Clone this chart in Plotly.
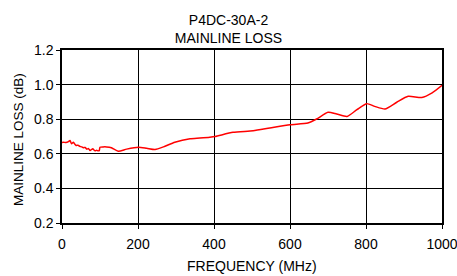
import plotly.graph_objects as go

freq = [0, 4, 10, 17, 21, 25, 30, 34, 37, 42, 47, 52, 56, 61, 65, 70, 74, 78, 81, 84, 87, 91, 95, 98,
        100, 108, 117, 130, 148, 170, 201, 223, 245, 267, 297, 337, 363, 389, 403, 450, 503, 547,
        600, 647, 670, 700, 723, 750, 776, 802, 823, 850, 881, 911, 947, 974, 1000]
loss = [0.665, 0.667, 0.665, 0.670, 0.677, 0.658, 0.667, 0.655, 0.648, 0.650, 0.643, 0.640, 0.635, 0.637,
        0.627, 0.630, 0.619, 0.625, 0.629, 0.622, 0.617, 0.620, 0.617, 0.618,
        0.638, 0.640, 0.640, 0.635, 0.615, 0.627, 0.638, 0.632, 0.625, 0.640, 0.667, 0.687, 0.691, 0.696,
        0.700, 0.724, 0.733, 0.749, 0.768, 0.778, 0.801, 0.840, 0.830, 0.816, 0.855, 0.890, 0.874, 0.859,
        0.898, 0.932, 0.925, 0.952, 0.996]

x_ticks = [0, 200, 400, 600, 800, 1000]
y_ticks = [0.2, 0.4, 0.6, 0.8, 1.0, 1.2]

fig = go.Figure()
fig.add_trace(go.Scatter(x=freq, y=loss, mode="lines",
                         line=dict(color="#ff0000", width=1.5, shape="spline", smoothing=0.6)))

font = dict(family="Liberation Sans, Arial, sans-serif", size=12, color="#000000")
fig.update_layout(
    width=457, height=276,
    margin=dict(l=62, r=15, t=50, b=53),
    paper_bgcolor="white", plot_bgcolor="white",
    showlegend=False,
    font=font,
    title=dict(text="P4DC-30A-2<br>MAINLINE LOSS", x=0.5, xanchor="center",
               y=0.91, yanchor="middle", font=dict(size=14)),
    xaxis=dict(range=[0, 1000], tickvals=x_ticks, ticktext=[str(v) for v in x_ticks],
               showgrid=True, gridcolor="#000000", gridwidth=1,
               showline=True, linecolor="#000000", linewidth=1.5, mirror=True,
               ticks="outside", ticklen=4, tickcolor="#000000", tickfont=dict(size=14),
               ticklabelstandoff=3, ticklabeloverflow="allow",
               zeroline=False, automargin=False),
    yaxis=dict(range=[0.2, 1.2], tickvals=y_ticks, ticktext=["%.1f" % v for v in y_ticks],
               showgrid=True, gridcolor="#000000", gridwidth=1,
               showline=True, linecolor="#000000", linewidth=1.5, mirror=True,
               ticks="outside", ticklen=4, tickcolor="#000000", tickfont=dict(size=14),
               ticklabeloverflow="allow",
               zeroline=False, automargin=False),
    annotations=[
        dict(text="FREQUENCY (MHz)", xref="paper", yref="paper", x=0.5, y=-0.2486,
             xanchor="center", yanchor="middle", showarrow=False, font=dict(size=14)),
        dict(text="MAINLINE LOSS (dB)", xref="paper", yref="paper", x=-0.1158, y=0.485,
             xanchor="center", yanchor="middle", showarrow=False, textangle=-90,
             font=dict(size=13.5)),
    ],
)

fig.write_html("out.html", config={"displayModeBar": False},
               post_script="document.body.style.margin='0';document.body.style.overflow='hidden';")
